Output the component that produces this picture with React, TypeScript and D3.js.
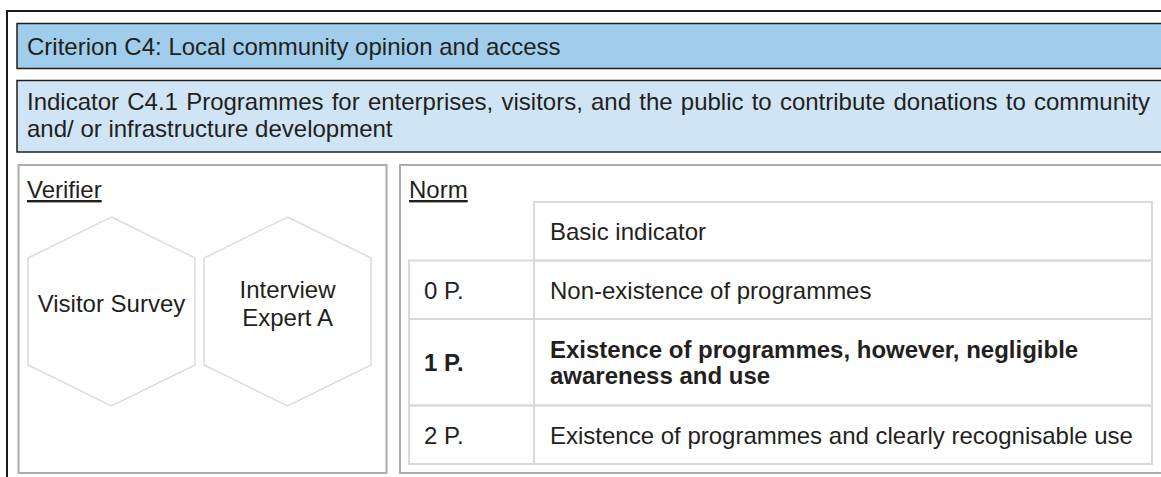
import React, { useEffect, useRef } from 'react';
import * as d3 from 'd3';

// content of the sheet
const criterionTitle = 'Criterion C4: Local community opinion and access';
const indicatorLines = [
  'Indicator C4.1 Programmes for enterprises, visitors, and the public to contribute donations to community',
  'and/ or infrastructure development',
];
const verifierLabel = 'Verifier';
const normLabel = 'Norm';
const verifiers = [['Visitor Survey'], ['Interview', 'Expert A']];
const normHeader = 'Basic indicator';
const scores = ['0 P.', '1 P.', '2 P.'];
const norms = [
  ['Non-existence of programmes'],
  ['Existence of programmes, however, negligible', 'awareness and use'],
  ['Existence of programmes and clearly recognisable use'],
];
const selectedScore = '1 P.';

const W = 1161;
const H = 477;
const FONT = '"Liberation Sans", Arial, sans-serif';
const INK = '#231f20';

const SheetDiagram = () => {
  const svgRef = useRef<SVGSVGElement>(null);

  useEffect(() => {
    document.body.style.margin = '0';
    const svg = d3.select(svgRef.current);
    svg.selectAll('*').remove();

    const g = svg.append('g').style('font-family', FONT).style('font-size', '24px');

    // outer frame (only top and left edges are inside the picture)
    g.append('path')
      .attr('d', `M7,${H + 5} V11 H${W + 5}`)
      .attr('fill', 'none')
      .attr('stroke', '#1a1a1a')
      .attr('stroke-width', 2);

    // criterion bar
    g.append('rect')
      .attr('x', 17).attr('y', 23.5)
      .attr('width', W).attr('height', 45)
      .attr('fill', '#a0cdeb')
      .attr('stroke', '#1f1f1f').attr('stroke-width', 1.5);
    g.append('text')
      .attr('x', 27).attr('y', 54.5)
      .attr('fill', INK)
      .text(criterionTitle);

    // indicator bar
    g.append('rect')
      .attr('x', 17).attr('y', 80.5)
      .attr('width', W).attr('height', 71.5)
      .attr('fill', '#cfe4f5')
      .attr('stroke', '#1f1f1f').attr('stroke-width', 1.5);
    const indText = g.selectAll('text.ind')
      .data(indicatorLines)
      .enter()
      .append('text')
      .attr('class', 'ind')
      .attr('x', 27)
      .attr('y', (d, i) => 110 + i * 27)
      .attr('fill', INK)
      .text(d => d);
    // justify the first line to the right edge
    indText.filter((d, i) => i === 0).each(function (d: any) {
      const el = this as SVGTextElement;
      const natural = el.getComputedTextLength();
      const spaces = (d.match(/ /g) || []).length;
      const extra = (1150 - 27 - natural) / spaces;
      if (extra > 0) d3.select(el).attr('word-spacing', extra);
    });

    // verifier panel
    g.append('rect')
      .attr('x', 18.5).attr('y', 165)
      .attr('width', 368).attr('height', 308)
      .attr('fill', '#fff')
      .attr('stroke', '#adadad').attr('stroke-width', 2);
    g.append('text')
      .attr('x', 27).attr('y', 198)
      .attr('fill', INK)
      .attr('text-decoration', 'underline')
      .text(verifierLabel);

    const hexX = d3.scaleBand<number>()
      .domain(verifiers.map((d, i) => i))
      .range([28, 371])
      .paddingInner(0.052);
    const hw = hexX.bandwidth() / 2;
    const hexY = d3.scaleLinear().domain([0, 1]).range([217, 406]);
    const hexPath = (cx: number) => d3.line()([
      [cx, hexY(0)],
      [cx + hw, hexY(0.217)],
      [cx + hw, hexY(0.783)],
      [cx, hexY(1)],
      [cx - hw, hexY(0.783)],
      [cx - hw, hexY(0.217)],
    ]) + 'Z';

    const hex = g.selectAll('g.hex')
      .data(verifiers)
      .enter()
      .append('g')
      .attr('class', 'hex');
    hex.append('path')
      .attr('d', (d, i) => hexPath(hexX(i)! + hw))
      .attr('fill', '#fff')
      .attr('stroke', '#dcdcdc')
      .attr('stroke-width', 1.5);
    hex.each(function (lines, i) {
      const cx = hexX(i)! + hw;
      d3.select(this).selectAll('text')
        .data(lines)
        .enter()
        .append('text')
        .attr('x', cx)
        .attr('y', (d, j) => 312 + (j - (lines.length - 1) / 2) * 28)
        .attr('text-anchor', 'middle')
        .attr('fill', INK)
        .text(d => d);
    });

    // norm panel
    g.append('rect')
      .attr('x', 400).attr('y', 165)
      .attr('width', W).attr('height', 308)
      .attr('fill', '#fff')
      .attr('stroke', '#adadad').attr('stroke-width', 2);
    g.append('text')
      .attr('x', 409).attr('y', 198)
      .attr('fill', INK)
      .attr('text-decoration', 'underline')
      .text(normLabel);

    // norm table: row height grows with the number of text lines
    const colScore = 409;
    const colNorm = 534;
    const colEnd = 1152;
    const lineH = 26;
    const rowH = (n: number) => 58.5 + 28 * (n - 1);
    const headerTop = 202;
    const rowTops: number[] = [headerTop + rowH(1)];
    norms.forEach((lines, i) => rowTops.push(rowTops[i] + rowH(lines.length)));
    const grid = '#d9d9d9';

    // header cell
    g.append('rect')
      .attr('x', colNorm).attr('y', headerTop)
      .attr('width', colEnd - colNorm).attr('height', rowH(1))
      .attr('fill', 'none').attr('stroke', grid).attr('stroke-width', 2);
    g.append('text')
      .attr('x', 550).attr('y', headerTop + 38)
      .attr('fill', INK)
      .text(normHeader);

    const rows = g.selectAll('g.row')
      .data(norms)
      .enter()
      .append('g')
      .attr('class', 'row')
      .attr('transform', (d, i) => `translate(0,${rowTops[i]})`);
    rows.append('rect')
      .attr('x', colScore).attr('y', 0)
      .attr('width', colNorm - colScore)
      .attr('height', d => rowH(d.length))
      .attr('fill', 'none').attr('stroke', grid).attr('stroke-width', 2);
    rows.append('rect')
      .attr('x', colNorm).attr('y', 0)
      .attr('width', colEnd - colNorm)
      .attr('height', d => rowH(d.length))
      .attr('fill', 'none').attr('stroke', grid).attr('stroke-width', 2);
    rows.append('text')
      .attr('x', 424)
      .attr('y', d => rowH(d.length) / 2 + 9)
      .attr('fill', INK)
      .attr('font-weight', (d, i) => (scores[i] === selectedScore ? 'bold' : 'normal'))
      .text((d, i) => scores[i]);
    rows.each(function (lines, i) {
      const bold = scores[i] === selectedScore;
      d3.select(this).selectAll('text.norm')
        .data(lines)
        .enter()
        .append('text')
        .attr('class', 'norm')
        .attr('x', 550)
        .attr('y', (d, j) => rowH(lines.length) / 2 + 9 + (j - (lines.length - 1) / 2) * lineH)
        .attr('fill', INK)
        .attr('font-weight', bold ? 'bold' : 'normal')
        .text(d => d);
    });
  }, []);

  return <svg ref={svgRef} width={W} height={H} style={{ display: 'block', background: '#fff' }} />;
};

export default SheetDiagram;
